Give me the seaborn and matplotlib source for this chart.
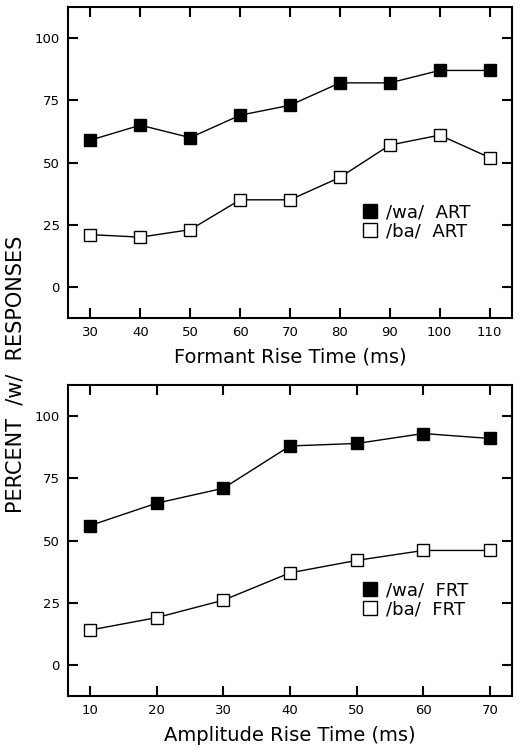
import numpy as np
import pandas as pd
import seaborn as sns
import matplotlib as mpl
import matplotlib.pyplot as plt
from matplotlib.lines import Line2D

mpl.use('Agg')

# top panel: formant rise time
formant_rt = [30, 40, 50, 60, 70, 80, 90, 100, 110]
wa_art = [59, 65, 60, 69, 73, 82, 82, 87, 87]
ba_art = [21, 20, 23, 35, 35, 44, 57, 61, 52]

# bottom panel: amplitude rise time
amplitude_rt = [10, 20, 30, 40, 50, 60, 70]
wa_frt = [56, 65, 71, 88, 89, 93, 91]
ba_frt = [14, 19, 26, 37, 42, 46, 46]

y_ticks = [0, 25, 50, 75, 100]


def draw_panel(ax, x, wa, ba, wa_label, ba_label, xlabel, pad):
    df = pd.DataFrame({'x': x, 'wa': wa, 'ba': ba})
    for col, face in [('wa', 'black'), ('ba', 'white')]:
        sns.lineplot(data=df, x='x', y=col, ax=ax, color='black', linewidth=1,
                     marker='s', markersize=9, markerfacecolor=face,
                     markeredgecolor='black', markeredgewidth=1)

    ax.set_xlim(x[0] - pad, x[-1] + pad)
    ax.set_ylim(-12.5, 112.5)
    ax.set_xticks(x)
    ax.set_yticks(y_ticks)
    ax.tick_params(direction='in', length=7, width=1.5, top=True, right=True,
                   labelsize=9.5, pad=6, color='black', labelcolor='black')
    for s in ax.spines.values():
        s.set_linewidth(1.5)
        s.set_color('black')
    ax.set_xlabel(xlabel, fontsize=14, labelpad=6, color='black')
    ax.set_ylabel('')

    handles = [Line2D([], [], linestyle='none', marker='s', markersize=10,
                      markerfacecolor='black', markeredgecolor='black'),
               Line2D([], [], linestyle='none', marker='s', markersize=10,
                      markerfacecolor='white', markeredgecolor='black')]
    leg = ax.legend(handles, [wa_label, ba_label], loc='upper left',
                    bbox_to_anchor=(0.64, 0.398), frameon=False, fontsize=13,
                    handletextpad=0.4, labelspacing=0.08, borderpad=0,
                    handlelength=1)
    for t in leg.get_texts():
        t.set_color('black')


sns.set_style('ticks')
plt.rcParams['font.family'] = ['DejaVu Sans']
plt.rcParams['text.color'] = 'black'

fig = plt.figure(figsize=(5.2, 7.53), dpi=100)
ax1 = fig.add_axes([68 / 520, 1 - 318 / 753, 444 / 520, 311 / 753])
ax2 = fig.add_axes([68 / 520, 1 - 696 / 753, 444 / 520, 311 / 753])

draw_panel(ax1, formant_rt, wa_art, ba_art, '/wa/  ART', '/ba/  ART',
           'Formant Rise Time (ms)', 4.5)
draw_panel(ax2, amplitude_rt, wa_frt, ba_frt, '/wa/  FRT', '/ba/  FRT',
           'Amplitude Rise Time (ms)', 3.3)

fig.text(16 / 520, 1 - 374 / 753, 'PERCENT  /w/  RESPONSES', rotation=90,
         ha='center', va='center', fontsize=15, color='black')

fig.savefig('out.png', dpi=100)
